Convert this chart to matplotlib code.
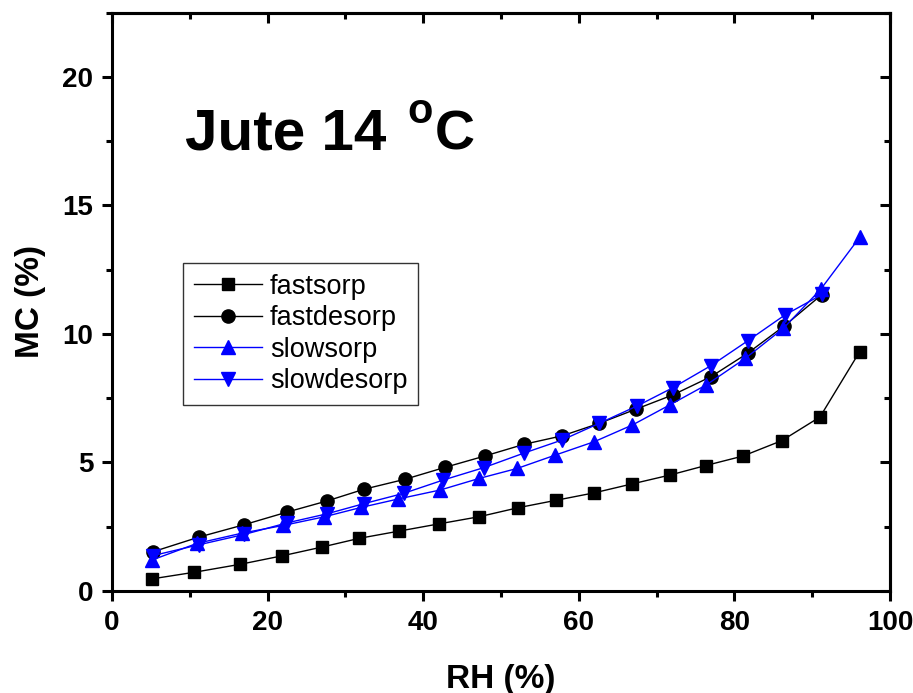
import matplotlib
matplotlib.use('Agg')
import matplotlib.pyplot as plt
from matplotlib.ticker import MultipleLocator

plt.rcParams['font.family'] = ['Liberation Sans', 'DejaVu Sans']

# fast sorption / desorption (black)
rh_fs = [5.1, 10.6, 16.5, 21.9, 27.0, 31.8, 36.9, 42.0, 47.2, 52.2, 57.1,
         62.0, 66.9, 71.7, 76.3, 81.1, 86.1, 91.0, 96.1]
mc_fs = [0.47, 0.73, 1.04, 1.37, 1.71, 2.05, 2.33, 2.61, 2.89, 3.24, 3.53,
         3.82, 4.17, 4.51, 4.88, 5.25, 5.85, 6.77, 9.31]
rh_fd = [5.3, 11.2, 17.0, 22.5, 27.6, 32.4, 37.7, 42.8, 47.9, 53.0, 57.9,
         62.6, 67.4, 72.1, 77.0, 81.7, 86.4, 91.2]
mc_fd = [1.53, 2.10, 2.58, 3.07, 3.50, 3.96, 4.35, 4.81, 5.25, 5.71, 6.04,
         6.52, 7.08, 7.63, 8.34, 9.25, 10.31, 11.52]

# slow sorption / desorption (blue)
rh_ss = [5.1, 10.9, 16.7, 22.0, 27.2, 32.0, 36.8, 42.2, 47.2, 52.1, 57.0,
         62.0, 66.9, 71.7, 76.4, 81.4, 86.3, 91.1, 96.1]
mc_ss = [1.20, 1.85, 2.25, 2.55, 2.88, 3.25, 3.58, 3.93, 4.38, 4.77, 5.29,
         5.81, 6.46, 7.24, 8.02, 9.05, 10.22, 11.74, 13.76]
rh_sd = [5.3, 11.2, 17.0, 22.5, 27.6, 32.4, 37.5, 42.6, 47.8, 52.9, 57.9,
         62.6, 67.5, 72.1, 77.0, 81.7, 86.5, 91.3]
mc_sd = [1.38, 1.80, 2.20, 2.65, 3.00, 3.40, 3.80, 4.32, 4.80, 5.36, 5.88,
         6.52, 7.20, 7.91, 8.77, 9.73, 10.74, 11.54]

fig = plt.figure(figsize=(9.13, 6.93), dpi=100)
ax = fig.add_axes([0.1227, 0.1472, 0.8521, 0.8345])

ax.plot(rh_fs, mc_fs, color='black', lw=1, marker='s', ms=8, label='fastsorp')
ax.plot(rh_fd, mc_fd, color='black', lw=1, marker='o', ms=9.5, label='fastdesorp')
ax.plot(rh_ss, mc_ss, color='blue', lw=1, marker='^', ms=10, label='slowsorp')
ax.plot(rh_sd, mc_sd, color='blue', lw=1, marker='v', ms=10, label='slowdesorp')

ax.set_xlim(0, 100)
ax.set_ylim(0, 22.5)
ax.xaxis.set_major_locator(MultipleLocator(20))
ax.xaxis.set_minor_locator(MultipleLocator(10))
ax.yaxis.set_major_locator(MultipleLocator(5))
ax.yaxis.set_minor_locator(MultipleLocator(2.5))

for s in ax.spines.values():
    s.set_linewidth(2.2)
ax.tick_params(which='major', length=7.5, width=2.2, direction='out', pad=6,
               labelsize=20)
ax.tick_params(which='minor', length=4, width=2.2, direction='out')
for lab in ax.get_xticklabels() + ax.get_yticklabels():
    lab.set_fontweight('bold')

top = ax.secondary_xaxis('top')
top.xaxis.set_major_locator(MultipleLocator(20))
top.xaxis.set_minor_locator(MultipleLocator(10))
top.tick_params(which='major', direction='in', length=7.5, width=2.2, labeltop=False)
top.tick_params(which='minor', direction='in', length=4, width=2.2)
top.spines['top'].set_linewidth(2.2)
right = ax.secondary_yaxis('right')
right.yaxis.set_major_locator(MultipleLocator(5))
right.yaxis.set_minor_locator(MultipleLocator(2.5))
right.tick_params(which='major', direction='in', length=7.5, width=2.2, labelright=False)
right.tick_params(which='minor', direction='in', length=4, width=2.2)
right.spines['right'].set_linewidth(2.2)

ax.set_xlabel('RH (%)', fontsize=24, fontweight='bold', labelpad=20)
ax.set_ylabel('MC (%)', fontsize=24, fontweight='bold', labelpad=12)

ax.text(9.4, 17.16, 'Jute 14', fontsize=42, fontweight='bold')
ax.text(38.0, 18.2, 'o', fontsize=30, fontweight='bold')
ax.text(41.5, 17.16, 'C', fontsize=40, fontweight='bold')

leg = ax.legend(loc='upper left', bbox_to_anchor=(0.0913, 0.567), fontsize=19.5,
                frameon=True, fancybox=False, edgecolor='black',
                handlelength=2.5, handletextpad=0.3, borderpad=0.4,
                labelspacing=0.2, borderaxespad=0)
leg.get_frame().set_linewidth(1)

fig.savefig('out.png', dpi=100)
